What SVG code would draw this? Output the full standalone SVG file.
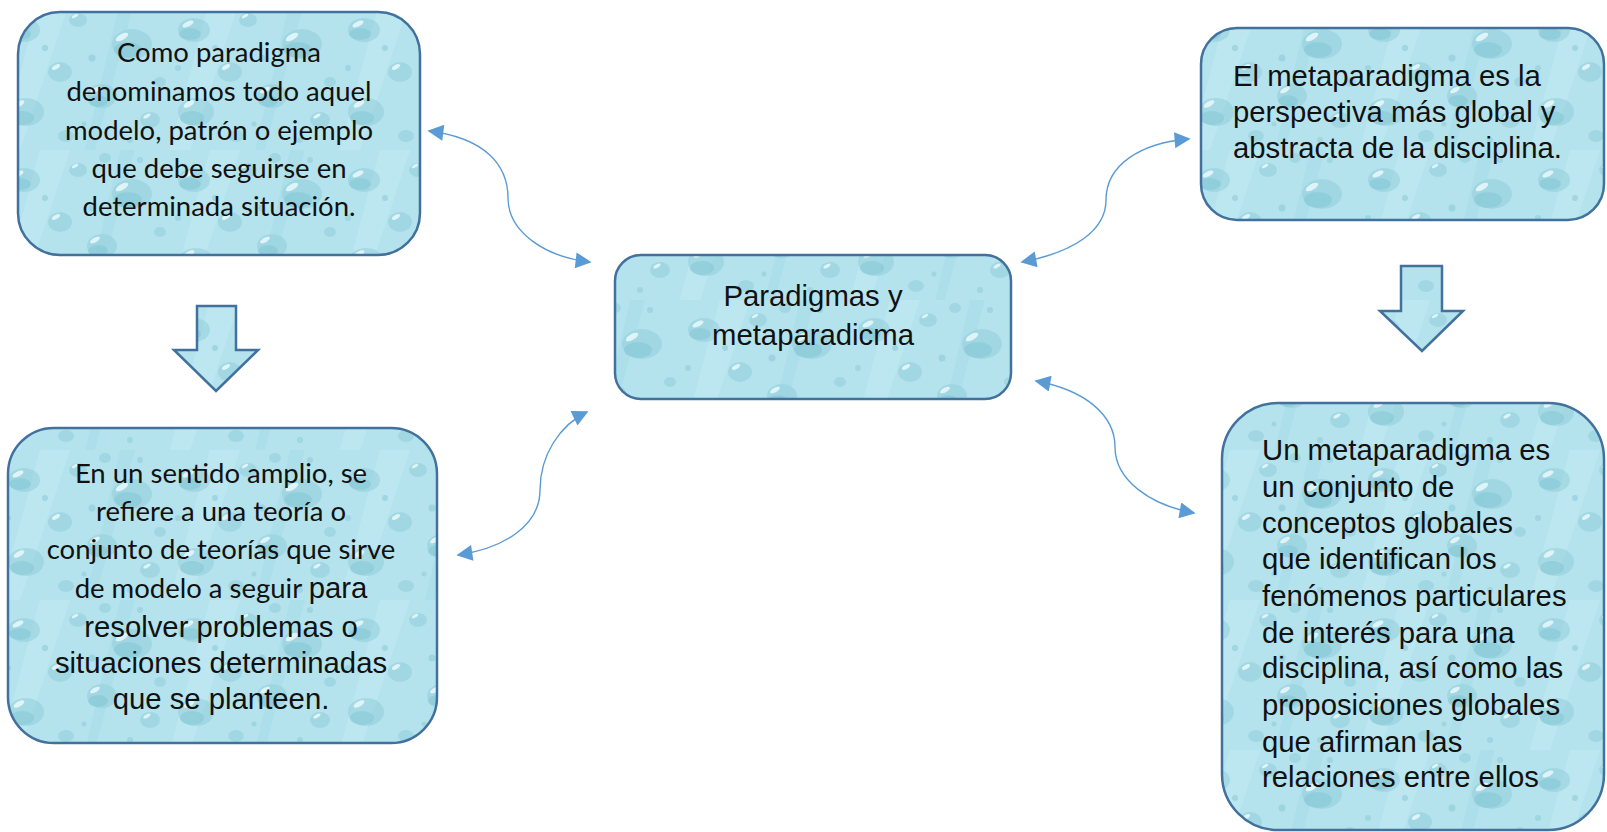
<svg xmlns="http://www.w3.org/2000/svg" width="1607" height="832" viewBox="0 0 1607 832">
<style>
.box{fill:url(#drops);stroke:#41719c;stroke-width:2.5}
.cal{font-family:Lato,"Open Sans",sans-serif;font-size:27.5px;fill:#111;text-anchor:middle}
.ar{font-family:"Liberation Sans",Arial,sans-serif;font-size:29.3px;fill:#111}
.mid{text-anchor:middle}
.con{fill:none;stroke:#5b9bd5;stroke-width:1.4;marker-start:url(#ah);marker-end:url(#ah)}
.d1{fill:#92cedb;opacity:0.55}
.d2{fill:#7fc3d3;opacity:0.45}
.hl{fill:#eaf9fc;opacity:0.85}
</style>
<defs>
<marker id="ah" viewBox="0 0 10 10" refX="9" refY="5" markerUnits="userSpaceOnUse" markerWidth="20" markerHeight="16" orient="auto-start-reverse">
<path d="M0,0 L10,5 L0,10 z" fill="#5b9bd5"/>
</marker>
<pattern id="drops" patternUnits="userSpaceOnUse" width="170" height="150">
<rect width="170" height="150" fill="#b4e3ed"/>
<path d="M40,0 L70,0 L20,150 L0,150 Z" fill="#c6ecf3" opacity="0.5"/>
<path d="M120,0 L135,0 L95,150 L85,150 Z" fill="#a6dbe7" opacity="0.5"/>
<ellipse cx="24" cy="30" rx="16" ry="12" class="d1"/>
<ellipse cx="20" cy="34" rx="11" ry="6" class="d2"/>
<ellipse cx="18" cy="24" rx="6" ry="2.5" class="hl" transform="rotate(-25 18 24)"/>
<ellipse cx="78" cy="20" rx="9" ry="7" class="d1"/>
<ellipse cx="75" cy="16" rx="3.5" ry="1.5" class="hl" transform="rotate(-30 75 16)"/>
<ellipse cx="132" cy="44" rx="20" ry="15" class="d1"/>
<ellipse cx="128" cy="50" rx="14" ry="8" class="d2"/>
<ellipse cx="122" cy="37" rx="7" ry="3" class="hl" transform="rotate(-30 122 37)"/>
<ellipse cx="60" cy="72" rx="12" ry="10" class="d1"/>
<ellipse cx="56" cy="67" rx="4.5" ry="2" class="hl" transform="rotate(-30 56 67)"/>
<ellipse cx="102" cy="96" rx="15" ry="12" class="d1"/>
<ellipse cx="98" cy="101" rx="10" ry="6" class="d2"/>
<ellipse cx="95" cy="90" rx="5.5" ry="2.2" class="hl" transform="rotate(-30 95 90)"/>
<ellipse cx="26" cy="112" rx="18" ry="14" class="d1"/>
<ellipse cx="22" cy="118" rx="12" ry="7" class="d2"/>
<ellipse cx="19" cy="104" rx="6" ry="2.5" class="hl" transform="rotate(-30 19 104)"/>
<ellipse cx="150" cy="120" rx="10" ry="8" class="d1"/>
<ellipse cx="147" cy="116" rx="4" ry="1.6" class="hl" transform="rotate(-30 147 116)"/>
<ellipse cx="160" cy="82" rx="6" ry="5" class="d1"/>
<ellipse cx="66" cy="136" rx="8" ry="6" class="d1"/>
<ellipse cx="105" cy="8" rx="6" ry="5" class="d1"/>
<circle cx="45" cy="48" r="3" fill="#9fd6e1"/>
<circle cx="92" cy="58" r="3.5" fill="#9cd4e0"/>
<circle cx="140" cy="10" r="3" fill="#9fd6e1"/>
<circle cx="8" cy="68" r="3" fill="#9fd6e1"/>
<circle cx="130" cy="140" r="3" fill="#9fd6e1"/>
<circle cx="84" cy="124" r="2.5" fill="#9fd6e1"/>
</pattern>
</defs>

<g id="connectors">
<path class="con" d="M 429 131 C 485 138, 508 165, 508 198 C 508 232, 545 257, 590 262"/>
<path class="con" d="M 458 555 C 505 548, 540 525, 540 490 C 540 455, 560 425, 587 412"/>
<path class="con" d="M 1022 262 C 1075 252, 1106 230, 1106 200 C 1106 165, 1140 143, 1189 139"/>
<path class="con" d="M 1036 381 C 1085 390, 1115 415, 1115 447 C 1115 480, 1150 505, 1194 513"/>
</g>

<g id="arrow-left">
<path class="box" d="M197,306 L236,306 L236,350 L258,350 L216,391 L174,350 L197,350 Z"/>
</g>
<g id="arrow-right">
<path class="box" d="M1401,266 L1442,266 L1442,311 L1463,311 L1422,351 L1380,311 L1401,311 Z"/>
</g>

<g id="node-paradigma">
<rect class="box" x="18" y="12" width="402" height="243" rx="42"/>
<text class="cal" x="219" y="62">Como paradigma</text>
<text class="cal" x="219" y="101">denominamos todo aquel</text>
<text class="cal" x="219" y="140">modelo, patrón o ejemplo</text>
<text class="cal" x="219" y="178">que debe seguirse en</text>
<text class="cal" x="219" y="216">determinada situación.</text>
</g>

<g id="node-sentido">
<rect class="box" x="8" y="428" width="429" height="315" rx="46"/>
<text class="cal" x="221" y="483">En un sentido amplio, se</text>
<text class="cal" x="221" y="521">refiere a una teoría o</text>
<text class="cal" x="221" y="559">conjunto de teorías que sirve</text>
<text class="cal" x="221" y="598">de modelo a seguir <tspan style="font-family:'Liberation Sans',Arial,sans-serif;font-size:29.3px">para</tspan></text>
<text class="ar mid" x="221" y="637">resolver problemas o</text>
<text class="ar mid" x="221" y="673">situaciones determinadas</text>
<text class="ar mid" x="221" y="709">que se planteen.</text>
</g>

<g id="node-center">
<rect class="box" x="615" y="255" width="396" height="144" rx="26"/>
<text class="ar mid" x="813" y="306">Paradigmas y</text>
<text class="ar mid" x="813" y="345">metaparadicma</text>
</g>

<g id="node-metaparadigma">
<rect class="box" x="1201" y="28" width="403" height="192" rx="36"/>
<text class="ar" x="1233" y="86">El metaparadigma es la</text>
<text class="ar" x="1233" y="122">perspectiva más global y</text>
<text class="ar" x="1233" y="158">abstracta de la disciplina.</text>
</g>

<g id="node-definicion">
<rect class="box" x="1222" y="403" width="382" height="427" rx="56"/>
<text class="ar" x="1262" y="460">Un metaparadigma es</text>
<text class="ar" x="1262" y="497">un conjunto de</text>
<text class="ar" x="1262" y="533">conceptos globales</text>
<text class="ar" x="1262" y="569">que identifican los</text>
<text class="ar" x="1262" y="606">fenómenos particulares</text>
<text class="ar" x="1262" y="643">de interés para una</text>
<text class="ar" x="1262" y="678">disciplina, así como las</text>
<text class="ar" x="1262" y="715">proposiciones globales</text>
<text class="ar" x="1262" y="752">que afirman las</text>
<text class="ar" x="1262" y="787">relaciones entre ellos</text>
</g>
</svg>
